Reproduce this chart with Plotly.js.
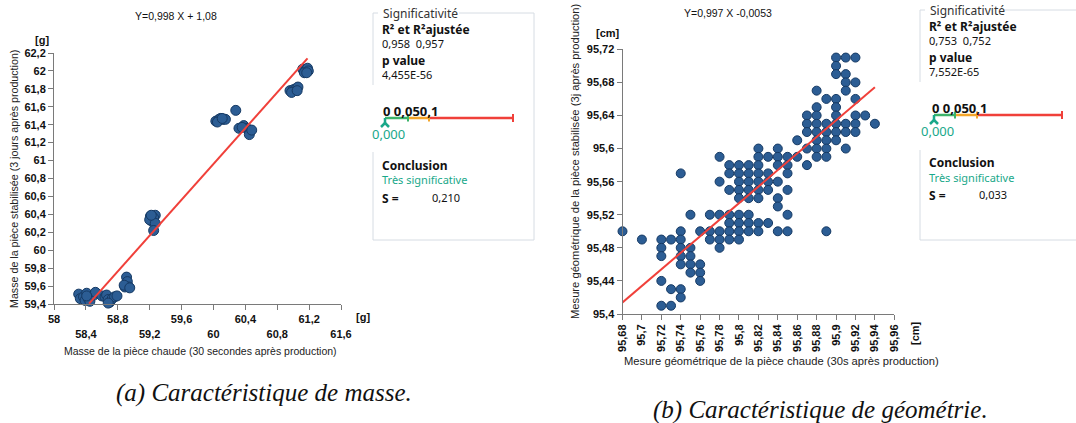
<!DOCTYPE html>
<html>
<head>
<meta charset="utf-8">
<script src="https://cdn.plot.ly/plotly-3.0.1.min.js"></script>
<style>
html,body{margin:0;padding:0;background:#fff;}
#chart{width:1076px;height:423px;}
</style>
</head>
<body>
<div id="chart"></div>
<script>
// ---------- DATA ----------
// (a) mass characteristic: hot mass (x) vs stabilised mass (y), grams
const massX = [58.31,58.33,58.37,58.39,58.41,58.43,58.45,58.50,58.52,58.41,
               58.60,58.64,58.66,58.68,58.70,58.73,58.76,58.79,58.68,
               58.91,58.92,58.89,58.94,58.88,58.95,
               59.21,59.27,59.23,59.25,59.20,59.27,59.25,59.22,
               60.03,60.07,60.09,60.12,60.15,60.05,60.11,60.28,
               60.32,60.38,60.42,60.45,60.48,60.36,
               60.96,61.00,61.03,61.06,60.98,61.05,
               61.12,61.16,61.18,61.14,61.19,61.17];
const massY = [59.51,59.46,59.48,59.44,59.52,59.46,59.43,59.50,59.53,59.49,
               59.49,59.48,59.50,59.45,59.42,59.46,59.48,59.49,59.41,
               59.70,59.65,59.59,59.59,59.61,59.58,
               60.38,60.39,60.32,60.36,60.34,60.30,60.22,60.39,
               61.44,61.46,61.47,61.46,61.46,61.43,61.47,61.56,
               61.36,61.39,61.36,61.29,61.34,61.37,
               61.78,61.79,61.80,61.82,61.76,61.78,
               62.02,62.01,62.03,61.98,62.00,61.98];
const massFitX = [58.44, 61.18];
const massFitY = [59.405, 62.14];
const massXTicks = [58,58.4,58.8,59.2,59.6,60,60.4,60.8,61.2,61.6];
const massXTickText = ['58','<br>58,4','58,8','<br>59,2','59,6','<br>60','60,4','<br>60,8','61,2','<br>61,6'];
const massYTicks = [59.4,59.6,59.8,60,60.2,60.4,60.6,60.8,61,61.2,61.4,61.6,61.8,62,62.2];
const massYTickText = ['59,4','59,6','59,8','60','60,2','60,4','60,6','60,8','61','61,2','61,4','61,6','61,8','62','62,2'];

// (b) geometry characteristic: hot measure (x) vs stabilised measure (y), cm
const geoX = [95.68,
  95.70,
  95.72,95.72,95.72,95.72,95.72,
  95.73,95.73,95.73,
  95.74,95.74,95.74,95.74,95.74,95.74,95.74,95.74,
  95.75,95.75,95.75,95.75,95.75,
  95.76,95.76,95.76,95.76,
  95.77,95.77,95.77,
  95.78,95.78,95.78,95.78,95.78,95.78,
  95.79,95.79,95.79,95.79,95.79,95.79,95.79,
  95.80,95.80,95.80,95.80,95.80,95.80,95.80,95.80,95.80,
  95.81,95.81,95.81,95.81,95.81,95.81,95.81,95.81,
  95.82,95.82,95.82,95.82,95.82,95.82,95.82,95.82,95.82,
  95.83,95.83,95.83,95.83,95.83,
  95.84,95.84,95.84,95.84,95.84,95.84,95.84,
  95.85,95.85,95.85,95.85,95.85,95.85,
  95.86,95.86,
  95.87,95.87,95.87,95.87,95.87,
  95.88,95.88,95.88,95.88,95.88,95.88,95.88,95.88,
  95.89,95.89,95.89,95.89,95.89,95.89,95.89,
  95.90,95.90,95.90,95.90,95.90,95.90,95.90,95.90,95.90,
  95.91,95.91,95.91,95.91,95.91,95.91,95.91,
  95.92,95.92,95.92,95.92,95.92,95.92,
  95.93,
  95.94];
const geoY = [95.50,
  95.49,
  95.49,95.48,95.47,95.44,95.41,
  95.49,95.43,95.41,
  95.57,95.50,95.49,95.48,95.47,95.46,95.43,95.42,
  95.52,95.48,95.47,95.46,95.45,
  95.50,95.46,95.45,95.44,
  95.52,95.50,95.49,
  95.59,95.56,95.52,95.50,95.49,95.48,
  95.58,95.57,95.55,95.52,95.51,95.50,95.49,
  95.58,95.57,95.56,95.55,95.54,95.52,95.51,95.50,95.49,
  95.58,95.57,95.56,95.55,95.54,95.52,95.51,95.50,
  95.60,95.59,95.58,95.57,95.56,95.55,95.54,95.51,95.50,
  95.59,95.57,95.56,95.55,95.51,
  95.60,95.59,95.58,95.56,95.54,95.53,95.50,
  95.59,95.58,95.57,95.55,95.52,95.50,
  95.61,95.59,
  95.64,95.63,95.62,95.60,95.58,
  95.67,95.65,95.64,95.63,95.62,95.61,95.60,95.59,
  95.66,95.63,95.62,95.61,95.60,95.59,95.50,
  95.71,95.70,95.69,95.66,95.65,95.64,95.63,95.62,95.61,
  95.71,95.69,95.68,95.67,95.63,95.62,95.60,
  95.71,95.68,95.66,95.64,95.63,95.62,
  95.64,
  95.63];
const geoFitX = [95.68, 95.94];
const geoFitY = [95.414, 95.674];
const geoXTicks = [95.68,95.70,95.72,95.74,95.76,95.78,95.80,95.82,95.84,95.86,95.88,95.90,95.92,95.94,95.96];
const geoXTickText = ['95,68','95,7','95,72','95,74','95,76','95,78','95,8','95,82','95,84','95,86','95,88','95,9','95,92','95,94','95,96'];
const geoYTicks = [95.40,95.44,95.48,95.52,95.56,95.60,95.64,95.68,95.72];
const geoYTickText = ['95,4','95,44','95,48','95,52','95,56','95,6','95,64','95,68','95,72'];

// side panel statistics
const panelA = {r2:'0,958  0,957', p:'4,455E-56', pv:'0,000', concl:'Très significative', s:'0,210'};
const panelB = {r2:'0,753  0,752', p:'7,552E-65', pv:'0,000', concl:'Très significative', s:'0,033'};

// ---------- HELPERS ----------
const W = 1076, H = 423;
const px = x => x / W;
const py = y => 1 - y / H;

const SANS = 'Liberation Sans, Arial, sans-serif';
const UI = 'Noto Sans, Open Sans, sans-serif';
const TEAL = '#19a88a';
const GREEN = '#3cb36a';
const ORANGE = '#f4a62a';
const RED = '#f0403a';
const BORDER = '#d6dce3';

const tickFont = {family: SANS, size: 11, color: '#111', weight: 'bold'};
const axisCommon = {
  showline: true, linecolor: '#7a7a7a', linewidth: 1,
  ticks: 'outside', ticklen: 5, tickcolor: '#7a7a7a', tickwidth: 1,
  showgrid: false, zeroline: false, tickmode: 'array',
  tickfont: tickFont, fixedrange: true
};

const markerStyle = {size: 10, color: '#2c5d94', line: {color: '#163a64', width: 1}};

const traces = [
  {x: massX, y: massY, xaxis: 'x', yaxis: 'y', type: 'scatter', mode: 'markers',
   marker: markerStyle, cliponaxis: false, hoverinfo: 'skip'},
  {x: massFitX, y: massFitY, xaxis: 'x', yaxis: 'y', type: 'scatter', mode: 'lines',
   line: {color: RED, width: 2}, cliponaxis: false, hoverinfo: 'skip'},
  {x: geoX, y: geoY, xaxis: 'x2', yaxis: 'y2', type: 'scatter', mode: 'markers',
   marker: Object.assign({}, markerStyle, {size: 9}), cliponaxis: false, hoverinfo: 'skip'},
  {x: geoFitX, y: geoFitY, xaxis: 'x2', yaxis: 'y2', type: 'scatter', mode: 'lines',
   line: {color: RED, width: 2}, cliponaxis: false, hoverinfo: 'skip'}
];

function ann(text, x, y, opts) {
  return Object.assign({
    text: text, x: px(x), y: py(y), xref: 'paper', yref: 'paper',
    showarrow: false, xanchor: 'left', yanchor: 'middle',
    font: {family: SANS, size: 10.5, color: '#222'}
  }, opts || {});
}
function line(x0, y0, x1, y1, color, width) {
  return {type: 'line', xref: 'paper', yref: 'paper',
    x0: px(x0), y0: py(y0), x1: px(x1), y1: py(y1),
    line: {color: color, width: width || 1}};
}

function panel(left, right, top, bottom, legEnd, gapTop, gapBot, tx, scale, st) {
  const shapes = [];
  shapes.push(line(left, top, left + 5, top, BORDER, 1));
  if (right !== null) {
    shapes.push(line(legEnd, top, right, top, BORDER, 1));
    shapes.push(line(right, top, right, bottom, BORDER, 1));
    shapes.push(line(left, bottom, right, bottom, BORDER, 1));
  } else {
    shapes.push(line(legEnd, top, W, top, BORDER, 1));
    shapes.push(line(left, bottom, W, bottom, BORDER, 1));
  }
  shapes.push(line(left, top, left, gapTop, BORDER, 1));
  shapes.push(line(left, gapBot, left, bottom, BORDER, 1));
  // p-value scale
  const [x0, xa, xb, xe, yl] = scale;
  shapes.push(line(x0, yl, xa, yl, GREEN, 2.5));
  shapes.push(line(xa, yl, xb, yl, ORANGE, 2.5));
  shapes.push(line(xb, yl, xe, yl, RED, 2.5));
  shapes.push(line(xa, yl - 3.5, xa, yl + 3.5, GREEN, 2));
  shapes.push(line(xb, yl - 3.5, xb, yl + 3.5, ORANGE, 2));
  shapes.push(line(xe, yl - 4, xe, yl + 4, RED, 2));
  // teal pointer
  shapes.push(line(x0, yl, x0, yl + 5, TEAL, 2.5));
  shapes.push(line(x0, yl + 5, x0 - 4, yl + 9, TEAL, 2.5));
  shapes.push(line(x0, yl + 5, x0 + 4, yl + 9, TEAL, 2.5));

  const anns = [
    ann('Significativité', tx + 1, top, {font: {family: UI, size: 12, color: '#333'}}),
    ann('R² et R²ajustée', tx, top + 17, {font: {family: UI, size: 12, color: '#111', weight: 'bold'}}),
    ann(st.r2, tx, top + 30, {font: {family: UI, size: 11, color: '#111'}}),
    ann('p value', tx, top + 48, {font: {family: UI, size: 12, color: '#111', weight: 'bold'}}),
    ann(st.p, tx, top + 61, {font: {family: UI, size: 11, color: '#111'}}),
    ann('0 0,050,1', x0 - 4, yl - 7, {font: {family: UI, size: 13, color: '#111', weight: 'bold'}}),
    ann(st.pv, x0 - 15, yl + 16, {font: {family: UI, size: 13, color: TEAL}}),
    ann('Conclusion', tx, top + 152, {font: {family: UI, size: 12, color: '#111', weight: 'bold'}}),
    ann(st.concl, tx, top + 167, {font: {family: UI, size: 11, color: TEAL}}),
    ann('S =', tx, top + 185, {font: {family: UI, size: 12, color: '#111', weight: 'bold'}}),
    ann(st.s, tx + 50, top + 184, {font: {family: UI, size: 11, color: '#111'}})
  ];
  return {shapes, anns};
}

const pA = panel(373, 534, 13, 240, 459, 85, 152, 380, [385, 408, 429, 513, 118], panelA);
const pB = panel(920, null, 10, 240, 1004, 82, 150, 927, [934, 955, 977, 1062, 115], panelB);

const annotations = [
  ann('Y=0,998 X + 1,08', 176, 16, {xanchor: 'center', font: {family: SANS, size: 10.5, color: '#111'}}),
  ann('[g]', 42, 40, {xanchor: 'center', font: {family: SANS, size: 11, color: '#111', weight: 'bold'}}),
  ann('[g]', 363, 317, {xanchor: 'center', font: {family: SANS, size: 11, color: '#111', weight: 'bold'}}),
  ann('Masse de la pièce stabilisée (3 jours après production)', 14, 179, {xanchor: 'center', textangle: -90, font: {family: SANS, size: 10.7, color: '#222'}}),
  ann('Masse de la pièce chaude (30 secondes après production)', 200, 351, {xanchor: 'center'}),
  ann('Y=0,997 X -0,0053', 728, 13, {xanchor: 'center', font: {family: SANS, size: 10.5, color: '#111'}}),
  ann('[cm]', 608, 33, {xanchor: 'center', font: {family: SANS, size: 11, color: '#111', weight: 'bold'}}),
  ann('[cm]', 915, 333, {xanchor: 'center', textangle: -90, font: {family: SANS, size: 11, color: '#111', weight: 'bold'}}),
  ann('Mesure géométrique de la pièce stabilisée (3j après production)', 575, 161, {xanchor: 'center', textangle: -90, font: {family: SANS, size: 11.2, color: '#222'}}),
  ann('Mesure géométrique de la pièce chaude (30s après production)', 781, 361, {xanchor: 'center', font: {family: SANS, size: 11.2, color: '#222'}}),
  ann('(a) Caractéristique de masse.', 264, 393, {xanchor: 'center', font: {family: 'Liberation Serif, DejaVu Serif, serif', size: 25, color: '#111', style: 'italic'}}),
  ann('(b) Caractéristique de géométrie.', 820, 410, {xanchor: 'center', font: {family: 'Liberation Serif, DejaVu Serif, serif', size: 25, color: '#111', style: 'italic'}})
].concat(pA.anns, pB.anns);

const layout = {
  width: W, height: H,
  margin: {l: 0, r: 0, t: 0, b: 0, pad: 0},
  paper_bgcolor: '#fff', plot_bgcolor: '#fff',
  showlegend: false,
  separators: ', ',
  font: {family: SANS, size: 11, color: '#222'},
  xaxis: Object.assign({}, axisCommon, {domain: [px(54), px(341)], range: [58, 61.6], anchor: 'y',
    tickvals: massXTicks, ticktext: massXTickText}),
  yaxis: Object.assign({}, axisCommon, {domain: [py(304), py(53)], range: [59.4, 62.2], anchor: 'x',
    tickvals: massYTicks, ticktext: massYTickText}),
  xaxis2: Object.assign({}, axisCommon, {domain: [px(622.5), px(894.3)], range: [95.68, 95.96], anchor: 'y2',
    tickvals: geoXTicks, ticktext: geoXTickText, tickangle: -90}),
  yaxis2: Object.assign({}, axisCommon, {domain: [py(314), py(49.3)], range: [95.4, 95.72], anchor: 'x2',
    tickvals: geoYTicks, ticktext: geoYTickText}),
  shapes: pA.shapes.concat(pB.shapes),
  annotations: annotations
};

Plotly.newPlot('chart', traces, layout, {staticPlot: true, displayModeBar: false});
</script>
</body>
</html>
